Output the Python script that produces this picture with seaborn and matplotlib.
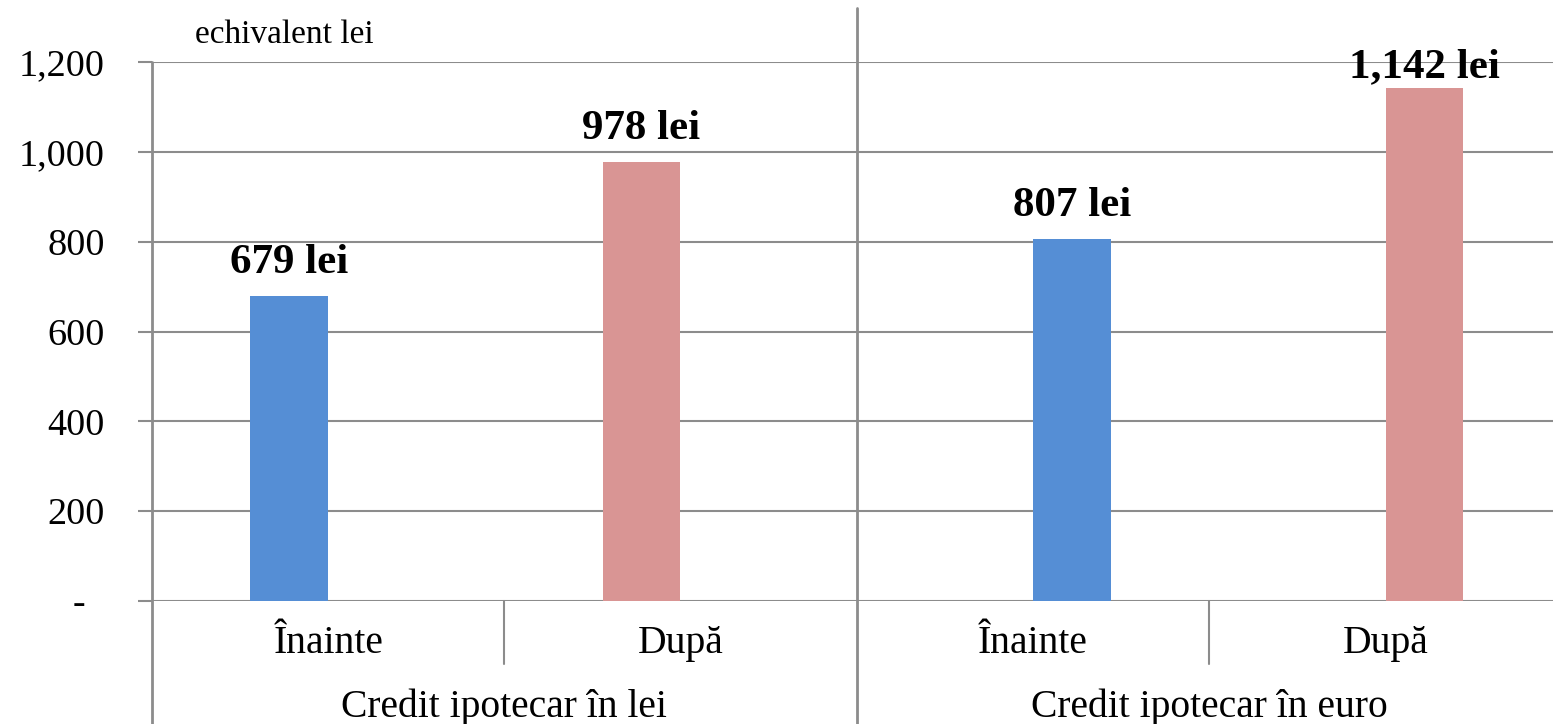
import pandas as pd
import numpy as np
import seaborn as sns
import matplotlib.pyplot as plt

# chart values
groups = ["Credit ipotecar în lei", "Credit ipotecar în lei",
          "Credit ipotecar în euro", "Credit ipotecar în euro"]
periods = ["Înainte", "După", "Înainte", "După"]
values = [679, 978, 807, 1142]
y_ticks = [0, 200, 400, 600, 800, 1000, 1200]
y_tick_labels = ["-  ", "200", "400", "600", "800", "1,000", "1,200"]
unit_label = "echivalent lei"

df = pd.DataFrame({"group": groups, "period": periods, "value": values})

sns.set_style("white")
plt.rcParams['font.family'] = ['Liberation Serif', 'DejaVu Serif']
plt.rcParams['text.color'] = 'black'
plt.rcParams['ytick.labelcolor'] = 'black'

grid_col = "#8c8c8c"
palette = {"Înainte": "#558ed5", "După": "#d99594"}

fig = plt.figure(figsize=(15.53, 7.24), dpi=100)
ax = fig.add_axes([152/1553, 123/724, (1553-152)/1553, 539/724])

sns.barplot(data=df, x="group", y="value", hue="period", palette=palette,
            width=0.9, gap=0.78, dodge=True, legend=False, ax=ax,
            saturation=1, errorbar=None, linewidth=0)

ymax = 1200
for cont in ax.containers:
    for bar, v in zip(cont, cont.datavalues):
        # excel pushes labels down when they would leave the plot area
        pad = 10 if v < ymax - 100 else 1
        ax.annotate(f"{v:,.0f} lei", (bar.get_x() + bar.get_width() / 2, bar.get_height()),
                    xytext=(0, pad), textcoords="offset points", ha="center", va="bottom",
                    fontsize=31, fontweight="bold", color="black", annotation_clip=False)

ax.set_xlim(-0.4, 1.389)
ax.set_ylim(0, ymax)
ax.set_yticks(y_ticks)
ax.set_yticklabels(y_tick_labels, fontsize=27.5)
ax.tick_params(axis="y", length=10, width=1.5, color=grid_col, pad=24, left=True)
ax.set_xticks([])
ax.set_xlabel("")
ax.set_ylabel("")
ax.grid(axis="y", color=grid_col, lw=1.5)
ax.set_axisbelow(True)
for s in ax.spines.values():
    s.set_visible(False)

# category axis decorations
tr = ax.get_xaxis_transform()
ax.plot([-0.4, -0.4], [1, -0.228], color=grid_col, lw=2, transform=tr, clip_on=False)
ax.plot([0.5, 0.5], [1.10, -0.228], color=grid_col, lw=2, transform=tr, clip_on=False)
for xm in [0.05, 0.95]:
    ax.plot([xm, xm], [0, -0.117], color=grid_col, lw=1.5, transform=tr, clip_on=False)

slot_x = [-0.175, 0.275, 0.725, 1.175]
for xp, lab in zip(slot_x, periods):
    ax.text(xp, -0.078, lab, transform=tr, ha="center", va="center", fontsize=28.5)
for xg, lab in zip([0.05, 0.95], [groups[0], groups[2]]):
    ax.text(xg, -0.197, lab, transform=tr, ha="center", va="center", fontsize=28.5)

fig.text(195/1553, 1 - 35/724, unit_label, ha="left", va="center", fontsize=24)

fig.savefig("out.png", dpi=100)
